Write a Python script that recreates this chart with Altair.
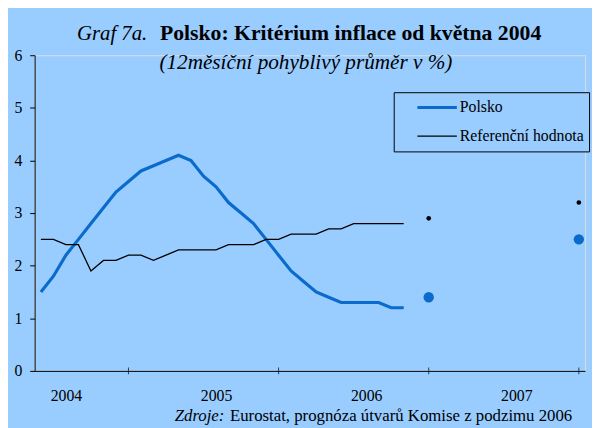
import json
import altair as alt
import pandas as pd

# ---------------- data ----------------
months = [
    "2004-05", "2004-06", "2004-07", "2004-08", "2004-09", "2004-10", "2004-11", "2004-12",
    "2005-01", "2005-02", "2005-03", "2005-04", "2005-05", "2005-06", "2005-07", "2005-08",
    "2005-09", "2005-10", "2005-11", "2005-12",
    "2006-01", "2006-02", "2006-03", "2006-04", "2006-05", "2006-06", "2006-07", "2006-08",
    "2006-09", "2006-10",
]
polsko = [1.5, 1.8, 2.2, 2.5, 2.8, 3.1, 3.4, 3.6,
          3.8, 3.9, 4.0, 4.1, 4.0, 3.7, 3.5, 3.2,
          3.0, 2.8, 2.5, 2.2,
          1.9, 1.7, 1.5, 1.4, 1.3, 1.3, 1.3, 1.3,
          1.2, 1.2]
referencni = [2.5, 2.5, 2.4, 2.4, 1.9, 2.1, 2.1, 2.2,
              2.2, 2.1, 2.2, 2.3, 2.3, 2.3, 2.3, 2.4,
              2.4, 2.4, 2.5, 2.5,
              2.6, 2.6, 2.6, 2.7, 2.7, 2.8, 2.8, 2.8,
              2.8, 2.8]

series_names = ["Polsko", "Referenční hodnota"]
series_colors = ["#0A6BCC", "#000000"]
series_widths = [3.2, 1.3]

forecast_months = ["2006-12", "2007-12"]
forecast_polsko = [1.4, 2.5]
forecast_ref = [2.9, 3.2]

year_labels = ["2004", "2005", "2006", "2007"]
tick_months = ["2004-12", "2005-12", "2006-12", "2007-12"]
y_ticks = [0, 1, 2, 3, 4, 5, 6]

title_italic = "Graf 7a."
title_bold = "Polsko:  Kritérium inflace od května 2004"
subtitle = "(12měsíční pohyblivý průměr v %)"
source_italic = "Zdroje:"
source_text = "Eurostat, prognóza útvarů Komise z podzimu 2006"

FONT = "Liberation Serif"
BG = "#99CCFF"
W, H = 558, 320


def month_index(s):
    y, m = s.split("-")
    return (int(y) - 2004) * 12 + int(m) - 1


# ---------------- tables ----------------
rows = []
for name, vals in zip(series_names, [polsko, referencni]):
    for m, v in zip(months, vals):
        rows.append({"t": month_index(m), "value": v, "series": name})
lines_df = pd.DataFrame(rows)

fc_pl = pd.DataFrame({"t": [month_index(m) for m in forecast_months], "value": forecast_polsko})
fc_ref = pd.DataFrame({"t": [month_index(m) for m in forecast_months], "value": forecast_ref})
ticks_df = pd.DataFrame({"t": [month_index(m) for m in tick_months], "value": [0] * len(tick_months)})

label_pos = [month_index(f"{y}-07") for y in year_labels]
label_expr = json.dumps(year_labels) + "[floor(datum.value / 12)]"

x_enc = alt.X(
    "t:Q",
    scale=alt.Scale(domain=[3.5, 47.5], nice=False, zero=False),
    axis=alt.Axis(values=label_pos, labelExpr=label_expr, ticks=False, grid=False, title=None,
                  domainColor="black", domainWidth=1, labelFont=FONT, labelFontSize=16,
                  labelColor="black", labelPadding=17),
)
y_enc = alt.Y(
    "value:Q",
    scale=alt.Scale(domain=[0, 6], nice=False, zero=True),
    axis=alt.Axis(values=y_ticks, grid=False, title=None, tickSize=5, tickColor="black",
                  domainColor="black", domainWidth=1, labelFont=FONT, labelFontSize=16,
                  labelColor="black", labelPadding=8),
)

legend = alt.Legend(
    title=None, orient="none", legendX=364, legendY=37.5, direction="vertical",
    symbolType="stroke", symbolSize=1600, symbolOffset=17, clipHeight=21, rowPadding=8,
    padding=5, labelFont=FONT, labelFontSize=16, labelColor="black", labelOffset=1,
    labelBaseline="middle", strokeColor="black", fillColor=BG, labelLimit=300,
)

lines = alt.Chart(lines_df).mark_line().encode(
    x=x_enc,
    y=y_enc,
    color=alt.Color("series:N", scale=alt.Scale(domain=series_names, range=series_colors),
                    legend=legend),
    strokeWidth=alt.StrokeWidth("series:N",
                                scale=alt.Scale(domain=series_names, range=series_widths),
                                legend=legend),
    detail="series:N",
)

pts_pl = alt.Chart(fc_pl).mark_circle(color=series_colors[0], size=110, opacity=1).encode(x=x_enc, y=y_enc)
pts_ref = alt.Chart(fc_ref).mark_circle(color="black", size=22, opacity=1).encode(x=x_enc, y=y_enc)
crosses = alt.Chart(ticks_df).mark_tick(orient="vertical", size=7, thickness=1, color="black").encode(
    x=x_enc, y=y_enc)


def text_layer(txt, x, y, align="left", **kw):
    return alt.Chart(pd.DataFrame({"label": [txt]})).mark_text(
        align=align, baseline="alphabetic", font=FONT, color="black", **kw
    ).encode(x=alt.value(x), y=alt.value(y), text="label:N")


t1 = text_layer(title_italic, 43, -15, fontSize=21, fontStyle="italic")
t2 = text_layer(title_bold, 127, -15, fontSize=22, fontWeight="bold")
t3 = text_layer(subtitle, 275, 14, align="center", fontSize=21.5, fontStyle="italic")
s1 = text_layer(source_italic, 142, 371, fontSize=17, fontStyle="italic")
s2 = text_layer(source_text, 198, 371, fontSize=17)

chart = alt.layer(lines, pts_pl, pts_ref, crosses, t1, t2, t3, s1, s2).properties(
    width=W, height=H,
    autosize=alt.AutoSizeParams(type="none"),
    padding={"left": 27, "top": 45, "right": 7, "bottom": 55},
    background=BG,
).configure_view(stroke=None).configure(font=FONT)

chart.save("out.html", embed_options={"renderer": "svg", "actions": False})
